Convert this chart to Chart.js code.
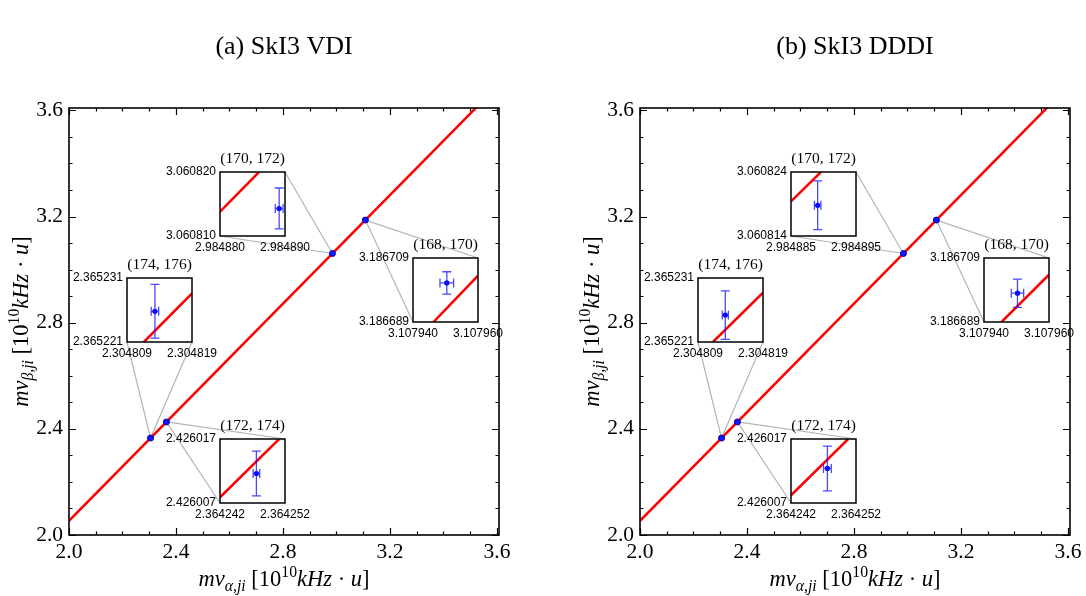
<!DOCTYPE html>
<html>
<head>
<meta charset="utf-8">
<script src="https://cdn.jsdelivr.net/npm/chart.js@4.4.1/dist/chart.umd.min.js"></script>
<style>
  html, body { margin: 0; padding: 0; background: #fff; }
  #wrap { position: relative; width: 1086px; height: 596px; overflow: hidden; }
  #wrap canvas { position: absolute; top: 0; }
</style>
</head>
<body>
<div id="wrap"></div>
<script>
// ---- data ----
const panelTitles = ["(a) SkI3 VDI", "(b) SkI3 DDDI"];
const transitions = ["(174, 176)", "(172, 174)", "(170, 172)", "(168, 170)"];
const mainTickLabels = ["2.0", "2.4", "2.8", "3.2", "3.6"];

// fitted line (main axes)
const fitLineX = [2.0, 3.61];
const fitLineY = [2.0535, 3.7003];

// VDI
const vdiX = [2.3048133, 2.3642476, 2.9848891, 3.1079504];
const vdiY = [2.3652258, 2.4260116, 3.0608143, 3.1867012];
const vdiXErr = [0.00000057, 0.0000005, 0.0000006, 0.0000021];
const vdiYErr = [0.0000042, 0.0000035, 0.0000032, 0.0000035];
const vdiXMin = [2.304809, 2.364242, 2.984880, 3.107940];
const vdiXMax = [2.304819, 2.364252, 2.984890, 3.107960];
const vdiYMin = [2.365221, 2.426007, 3.060810, 3.186689];
const vdiYMax = [2.365231, 2.426017, 3.060820, 3.186709];
const vdiLineX = [[2.3048116, 2.304819], [2.364242, 2.3642511], [2.984880, 2.984886], [3.1079463, 3.107960]];
const vdiLineY = [[2.365221, 2.3652286], [2.4260079, 2.426017], [3.0608138, 3.060820], [3.186689, 3.1867035]];

// DDDI
const dddiX = [2.3048132, 2.3642476, 2.9848891, 3.1079503];
const dddiY = [2.3652252, 2.4260124, 3.0608188, 3.186698];
const dddiXErr = [0.00000047, 0.0000006, 0.0000005, 0.0000019];
const dddiYErr = [0.0000038, 0.0000035, 0.0000038, 0.0000044];
const dddiXMin = [2.304809, 2.364242, 2.984885, 3.107940];
const dddiXMax = [2.304819, 2.364252, 2.984895, 3.107960];
const dddiYMin = [2.365221, 2.426007, 3.060814, 3.186689];
const dddiYMax = [2.365231, 2.426017, 3.060824, 3.186709];
const dddiLineX = [[2.3048113, 2.304819], [2.364242, 2.3642508], [2.984885, 2.9848896], [3.1079454, 3.107960]];
const dddiLineY = [[2.365221, 2.3652287], [2.4260082, 2.426017], [3.0608194, 3.060824], [3.186689, 3.1867038]];

// ---- layout ----
const insetPos = [[0.135, 0.452], [0.351, 0.075], [0.351, 0.700], [0.800, 0.499]]; // lower-left, axes fraction
const insetSize = [0.151, 0.150];
const insetCorners = [["bl", "br"], ["tr", "bl"], ["tr", "bl"], ["tr", "bl"]];

const SERIF = '"Liberation Serif", "Times New Roman", serif';
const SANS = '"Liberation Sans", Arial, sans-serif';
const wrap = document.getElementById("wrap");

function insetRect(chart, i) {
  const a = chart.chartArea;
  const w = a.right - a.left, h = a.bottom - a.top;
  const left = Math.round(a.left + insetPos[i][0] * w);
  const right = Math.round(a.left + (insetPos[i][0] + insetSize[0]) * w);
  const bottom = Math.round(a.bottom - insetPos[i][1] * h);
  const top = Math.round(a.bottom - (insetPos[i][1] + insetSize[1]) * h);
  return { left, right, top, bottom };
}

// rich text for math-ish axis titles
function drawRich(ctx, parts, size) {
  const fontOf = (s) => {
    const small = s === "sub" || s === "sup" || s === "isub";
    const it = s === "i" || s === "isub";
    return (it ? "italic " : "") + (small ? size * 0.7 : size) + "px " + SERIF;
  };
  let w = 0;
  parts.forEach(p => { ctx.font = fontOf(p[1]); w += ctx.measureText(p[0]).width; });
  let cx = -w / 2;
  ctx.textBaseline = "alphabetic";
  ctx.textAlign = "left";
  parts.forEach(p => {
    ctx.font = fontOf(p[1]);
    let dy = 0;
    if (p[1] === "sub" || p[1] === "isub") dy = size * 0.22;
    if (p[1] === "sup") dy = -size * 0.4;
    ctx.fillText(p[0], cx, size * 0.35 + dy);
    cx += ctx.measureText(p[0]).width;
  });
}

const xTitle = [["m", "i"], ["ν", "i"], ["α,ji", "isub"], [" [10", ""], ["10", "sup"], ["kHz", "i"], [" · ", ""], ["u", "i"], ["]", ""]];
const yTitle = [["m", "i"], ["ν", "i"], ["β,ji", "isub"], [" [10", ""], ["10", "sup"], ["kHz", "i"], [" · ", ""], ["u", "i"], ["]", ""]];

const isMajor = v => mainTickLabels.includes(v.toFixed(1));

const mainPlugin = {
  id: "mainDeco",
  beforeDatasetsDraw(chart) {
    const { ctx, scales: { x, y } } = chart;
    const d = chart.canvas.$panel;
    if (!d) return;
    ctx.save();
    ctx.strokeStyle = "#b4b4b4";
    ctx.lineWidth = 1.2;
    ctx.beginPath();
    for (let i = 0; i < transitions.length; i++) {
      const px = x.getPixelForValue(d.x[i]), py = y.getPixelForValue(d.y[i]);
      const r = insetRect(chart, i);
      insetCorners[i].forEach(c => {
        ctx.moveTo(px, py);
        ctx.lineTo(c[1] === "l" ? r.left : r.right, c[0] === "t" ? r.top : r.bottom);
      });
    }
    ctx.stroke();
    ctx.restore();
  },
  afterDraw(chart) {
    const { ctx, chartArea: a, scales: { x, y } } = chart;
    ctx.save();
    ctx.strokeStyle = "#000";
    ctx.lineWidth = 1.2;
    ctx.beginPath();
    x.ticks.forEach(t => {
      const p = Math.round(x.getPixelForValue(t.value)) + 0.5;
      const L = isMajor(t.value) ? 7 : 3.5;
      ctx.moveTo(p, a.bottom); ctx.lineTo(p, a.bottom - L);
      ctx.moveTo(p, a.top); ctx.lineTo(p, a.top + L);
    });
    y.ticks.forEach(t => {
      const p = Math.round(y.getPixelForValue(t.value)) + 0.5;
      const L = isMajor(t.value) ? 7 : 3.5;
      ctx.moveTo(a.left, p); ctx.lineTo(a.left + L, p);
      ctx.moveTo(a.right, p); ctx.lineTo(a.right - L, p);
    });
    ctx.stroke();
    ctx.lineWidth = 1.6;
    ctx.strokeRect(a.left, a.top, a.right - a.left, a.bottom - a.top);
    ctx.fillStyle = "#000";
    ctx.save();
    ctx.translate((a.left + a.right) / 2, a.bottom + 43);
    drawRich(ctx, xTitle, 22.5);
    ctx.restore();
    ctx.save();
    ctx.translate(a.left - 49, (a.top + a.bottom) / 2);
    ctx.rotate(-Math.PI / 2);
    drawRich(ctx, yTitle, 22.5);
    ctx.restore();
    ctx.restore();
  }
};

const insetPlugin = {
  id: "insetDeco",
  beforeDraw(chart) {
    const { ctx, chartArea: a } = chart;
    ctx.save();
    ctx.fillStyle = "#fff";
    ctx.fillRect(a.left, a.top, a.right - a.left, a.bottom - a.top);
    ctx.restore();
  },
  afterDatasetsDraw(chart) {
    const { ctx, scales: { x, y } } = chart;
    const e = chart.canvas.$err;
    if (!e) return;
    const px = x.getPixelForValue(e.x), py = y.getPixelForValue(e.y);
    const x0 = x.getPixelForValue(e.x - e.xe), x1 = x.getPixelForValue(e.x + e.xe);
    const y0 = y.getPixelForValue(e.y - e.ye), y1 = y.getPixelForValue(e.y + e.ye);
    const cap = 4.5;
    ctx.save();
    ctx.strokeStyle = "rgba(20,20,255,0.78)";
    ctx.lineWidth = 1.3;
    ctx.beginPath();
    ctx.moveTo(px, y0); ctx.lineTo(px, y1);
    ctx.moveTo(px - cap, y0); ctx.lineTo(px + cap, y0);
    ctx.moveTo(px - cap, y1); ctx.lineTo(px + cap, y1);
    ctx.moveTo(x0, py); ctx.lineTo(x1, py);
    ctx.moveTo(x0, py - cap); ctx.lineTo(x0, py + cap);
    ctx.moveTo(x1, py - cap); ctx.lineTo(x1, py + cap);
    ctx.stroke();
    ctx.restore();
  },
  afterDraw(chart) {
    const { ctx, chartArea: a } = chart;
    ctx.save();
    ctx.strokeStyle = "#000";
    ctx.lineWidth = 1.5;
    ctx.strokeRect(a.left, a.top, a.right - a.left, a.bottom - a.top);
    ctx.restore();
  }
};

function makeInset(mainChart, offsetLeft, d, i) {
  const L = 60, R = 32, T = 26, B = 22, YW = 56, XH = 18;
  const r = insetRect(mainChart, i);
  const cv = document.createElement("canvas");
  cv.width = r.right - r.left + L + R;
  cv.height = r.bottom - r.top + T + B;
  cv.style.left = (offsetLeft + r.left - L) + "px";
  cv.style.top = (r.top - T) + "px";
  cv.style.zIndex = 5;
  cv.$err = { x: d.x[i], y: d.y[i], xe: d.xe[i], ye: d.ye[i] };
  wrap.appendChild(cv);
  const twoTicks = s => { s.ticks = [{ value: s.min }, { value: s.max }]; };
  new Chart(cv, {
    type: "scatter",
    data: {
      datasets: [
        {
          data: [{ x: d.x[i], y: d.y[i] }],
          pointRadius: 2.6,
          backgroundColor: "#0000ff",
          borderWidth: 0
        },
        {
          data: [{ x: d.lx[i][0], y: d.ly[i][0] }, { x: d.lx[i][1], y: d.ly[i][1] }],
          showLine: true,
          borderColor: "#ff0000",
          borderWidth: 2.5,
          pointRadius: 0
        }
      ]
    },
    options: {
      responsive: false,
      animation: false,
      events: [],
      layout: { padding: { left: L - YW, right: R, top: 0, bottom: B - XH } },
      plugins: {
        legend: { display: false },
        tooltip: { enabled: false },
        title: {
          display: true,
          text: transitions[i],
          fullSize: false,
          color: "#000",
          font: { family: SERIF, size: 15.5, weight: "normal" },
          padding: { top: 3.4, bottom: 4 }
        }
      },
      scales: {
        x: {
          type: "linear",
          min: d.xMin[i],
          max: d.xMax[i],
          afterBuildTicks: twoTicks,
          afterFit: s => { s.height = XH; },
          grid: { display: false, drawTicks: false },
          border: { display: false },
          ticks: {
            callback: v => v.toFixed(6),
            autoSkip: false,
            maxRotation: 0,
            padding: 4,
            color: "#000",
            font: { family: SANS, size: 12 }
          }
        },
        y: {
          type: "linear",
          min: d.yMin[i],
          max: d.yMax[i],
          afterBuildTicks: twoTicks,
          afterFit: s => { s.width = YW; },
          grid: { display: false, drawTicks: false },
          border: { display: false },
          ticks: {
            callback: v => v.toFixed(6),
            autoSkip: false,
            padding: 4,
            color: "#000",
            font: { family: SANS, size: 12 }
          }
        }
      }
    },
    plugins: [insetPlugin]
  });
}

function makePanel(p, offsetLeft, padLeft, padRight, d) {
  const cv = document.createElement("canvas");
  cv.width = 543;
  cv.height = 596;
  cv.style.left = offsetLeft + "px";
  cv.$panel = d;
  wrap.appendChild(cv);
  const mainTicks = {
    stepSize: 0.1,
    includeBounds: false,
    autoSkip: false,
    maxRotation: 0,
    color: "#000",
    font: { family: SERIF, size: 21.5 },
    callback: v => (isMajor(v) ? v.toFixed(1) : "")
  };
  const chart = new Chart(cv, {
    type: "scatter",
    data: {
      datasets: [
        {
          data: d.x.map((v, k) => ({ x: v, y: d.y[k] })),
          pointRadius: 3,
          backgroundColor: "#1414ff",
          borderColor: "#0000b0",
          borderWidth: 1
        },
        {
          data: fitLineX.map((v, k) => ({ x: v, y: fitLineY[k] })),
          showLine: true,
          borderColor: "#ff0000",
          borderWidth: 2.5,
          pointRadius: 0
        }
      ]
    },
    options: {
      responsive: false,
      animation: false,
      events: [],
      layout: { padding: { left: padLeft, right: padRight, top: 0, bottom: 0 } },
      plugins: {
        legend: { display: false },
        tooltip: { enabled: false },
        title: {
          display: true,
          text: panelTitles[p],
          fullSize: false,
          color: "#000",
          font: { family: SERIF, size: 26, weight: "normal" },
          padding: { top: 32, bottom: 44.8 }
        }
      },
      scales: {
        x: {
          type: "linear",
          min: 2.0,
          max: 3.6075,
          afterFit: s => { s.height = 61; },
          grid: { display: false, drawTicks: false },
          border: { display: false },
          ticks: Object.assign({}, mainTicks, { padding: 4 })
        },
        y: {
          type: "linear",
          min: 2.0,
          max: 3.609,
          afterFit: s => { s.width = 40; },
          grid: { display: false, drawTicks: false },
          border: { display: false },
          ticks: Object.assign({}, mainTicks, { padding: 6 })
        }
      }
    },
    plugins: [mainPlugin]
  });
  for (let i = 0; i < transitions.length; i++) makeInset(chart, offsetLeft, d, i);
}

makePanel(0, 0, 29, 44, {
  x: vdiX, y: vdiY, xe: vdiXErr, ye: vdiYErr,
  xMin: vdiXMin, xMax: vdiXMax, yMin: vdiYMin, yMax: vdiYMax,
  lx: vdiLineX, ly: vdiLineY
});
makePanel(1, 543, 57, 16, {
  x: dddiX, y: dddiY, xe: dddiXErr, ye: dddiYErr,
  xMin: dddiXMin, xMax: dddiXMax, yMin: dddiYMin, yMax: dddiYMax,
  lx: dddiLineX, ly: dddiLineY
});
</script>
</body>
</html>
